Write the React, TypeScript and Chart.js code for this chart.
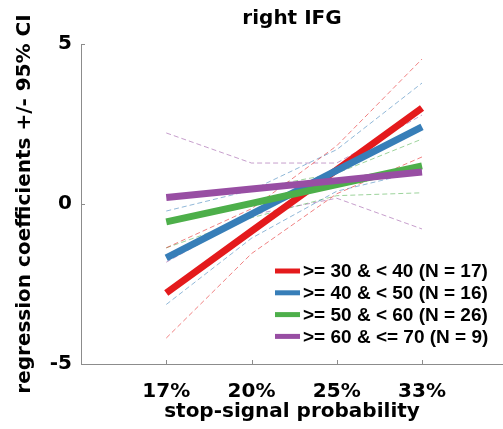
import React, { useEffect, useRef } from "react";
import { Chart, registerables } from "chart.js";

Chart.register(...registerables);

const chartTitle = "right IFG";
const xAxisTitle = "stop-signal probability";
const yAxisTitle = "regression coefficients +/- 95% CI";
const categories = ["17%", "20%", "25%", "33%"];
const yTicks = [-5, 0, 5];

const groupLabels = [
  ">= 30 & < 40 (N = 17)",
  ">= 40 & < 50 (N = 16)",
  ">= 50 & < 60 (N = 26)",
  ">= 60 & <= 70 (N = 9)",
];
const groupColors = ["#e41a1c", "#377eb8", "#4daf4a", "#984ea3"];
const ciColors = [
  "rgba(228,26,28,0.55)",
  "rgba(55,126,184,0.55)",
  "rgba(77,175,74,0.55)",
  "rgba(152,78,163,0.55)",
];

const mean30 = [-2.78, -0.85, 1.07, 3.0];
const upper30 = [-1.37, -0.15, 1.82, 4.53];
const lower30 = [-4.19, -1.55, 0.32, 1.47];

const mean40 = [-1.68, -0.32, 1.05, 2.41];
const upper40 = [-0.22, 0.43, 1.7, 3.78];
const lower40 = [-3.14, -1.07, 0.4, 1.04];

const mean50 = [-0.56, 0.02, 0.61, 1.19];
const upper50 = [0.25, 0.47, 0.96, 2.03];
const lower50 = [-1.37, -0.43, 0.26, 0.35];

const mean60 = [0.2, 0.47, 0.73, 1.0];
const upper60 = [2.22, 1.28, 1.28, 2.78];
const lower60 = [-1.82, -0.34, 0.18, -0.78];

const means = [mean30, mean40, mean50, mean60];
const uppers = [upper30, upper40, upper50, upper60];
const lowers = [lower30, lower40, lower50, lower60];

const FONT = "'DejaVu Sans', 'Liberation Sans', Arial, sans-serif";
const LEGEND_FONT = "'Liberation Sans', Arial, Helvetica, sans-serif";

const toPts = (arr: number[]) => arr.map((y, i) => ({ x: i, y }));

export default function App() {
  const ref = useRef<HTMLCanvasElement | null>(null);

  useEffect(() => {
    if (!ref.current) return;
    const datasets: any[] = [];
    for (let g = 0; g < 4; g++) {
      for (const band of [uppers[g], lowers[g]]) {
        datasets.push({
          label: "ci",
          data: toPts(band),
          borderColor: ciColors[g],
          borderWidth: 1,
          borderDash: [5, 3],
          pointRadius: 0,
          tension: 0,
          order: 10 + g,
        });
      }
    }
    for (let g = 0; g < 4; g++) {
      datasets.push({
        label: groupLabels[g],
        data: toPts(means[g]),
        borderColor: groupColors[g],
        borderWidth: 7,
        pointRadius: 0,
        tension: 0,
        borderCapStyle: "butt",
        order: 4 - g,
      });
    }

    const overlay = {
      id: "overlay",
      afterDraw(chart: any) {
        const { ctx, chartArea, scales } = chart;
        ctx.save();
        // title
        ctx.fillStyle = "#000";
        ctx.font = `bold 20px ${FONT}`;
        ctx.textAlign = "center";
        ctx.textBaseline = "middle";
        ctx.fillText(chartTitle, (chartArea.left + chartArea.right) / 2, 19);
        // inward tick marks
        ctx.strokeStyle = "#8c8c8c";
        ctx.lineWidth = 1;
        for (let i = 0; i < categories.length; i++) {
          const x = Math.round(scales.x.getPixelForValue(i)) + 0.5;
          ctx.beginPath();
          ctx.moveTo(x, chartArea.bottom);
          ctx.lineTo(x, chartArea.bottom - 4);
          ctx.stroke();
        }
        for (const v of yTicks) {
          const y = Math.round(scales.y.getPixelForValue(v)) + 0.5;
          ctx.beginPath();
          ctx.moveTo(chartArea.left, y);
          ctx.lineTo(chartArea.left + 4, y);
          ctx.stroke();
        }
        // legend
        ctx.font = `bold 19px ${LEGEND_FONT}`;
        ctx.textAlign = "left";
        ctx.textBaseline = "middle";
        for (let g = 0; g < 4; g++) {
          const y = 271 + g * 21.8;
          ctx.strokeStyle = groupColors[g];
          ctx.lineWidth = 5;
          ctx.beginPath();
          ctx.moveTo(275, y);
          ctx.lineTo(300, y);
          ctx.stroke();
          ctx.fillStyle = "#000";
          ctx.fillText(groupLabels[g], 303, y + 1);
        }
        ctx.restore();
      },
    };

    const chart = new Chart(ref.current, {
      type: "line",
      data: { datasets },
      plugins: [overlay],
      options: {
        animation: false,
        responsive: false,
        devicePixelRatio: 1,
        layout: { padding: { top: 44, right: 0, left: 0, bottom: 0 } },
        plugins: {
          legend: { display: false },
          title: { display: false },
          tooltip: { enabled: false },
        },
        scales: {
          x: {
            type: "linear",
            min: -1,
            max: 3.95,
            afterBuildTicks: (scale: any) => {
              scale.ticks = categories.map((_, i) => ({ value: i }));
            },
            afterFit: (scale: any) => {
              scale.height = 65;
            },
            grid: { display: false, drawTicks: false },
            border: { display: true, color: "#8c8c8c", width: 1 },
            ticks: {
              callback: (v: any) => categories[v] ?? "",
              font: { family: FONT, size: 20, weight: "bold" },
              color: "#000",
              padding: 16,
              maxRotation: 0,
              autoSkip: false,
            },
            title: {
              display: true,
              text: xAxisTitle,
              font: { family: FONT, size: 20, weight: "bold" },
              color: "#000",
              padding: { top: 0, bottom: 5 },
            },
          },
          y: {
            min: -5,
            max: 5,
            afterBuildTicks: (scale: any) => {
              scale.ticks = yTicks.map((v) => ({ value: v }));
            },
            afterFit: (scale: any) => {
              scale.width = 81;
            },
            grid: { display: false, drawTicks: false },
            border: { display: true, color: "#8c8c8c", width: 1 },
            ticks: {
              font: { family: FONT, size: 20, weight: "bold" },
              color: "#000",
              padding: 9,
            },
            title: {
              display: true,
              text: yAxisTitle,
              font: { family: FONT, size: 20, weight: "bold" },
              color: "#000",
              padding: { top: 13, bottom: 0 },
            },
          },
        },
      },
    } as any);
    return () => chart.destroy();
  }, []);

  return (
    <div style={{ position: "absolute", left: 0, top: 0, width: 503, height: 429, background: "#fff" }}>
      <canvas ref={ref} width={503} height={429} style={{ display: "block" }} />
    </div>
  );
}
